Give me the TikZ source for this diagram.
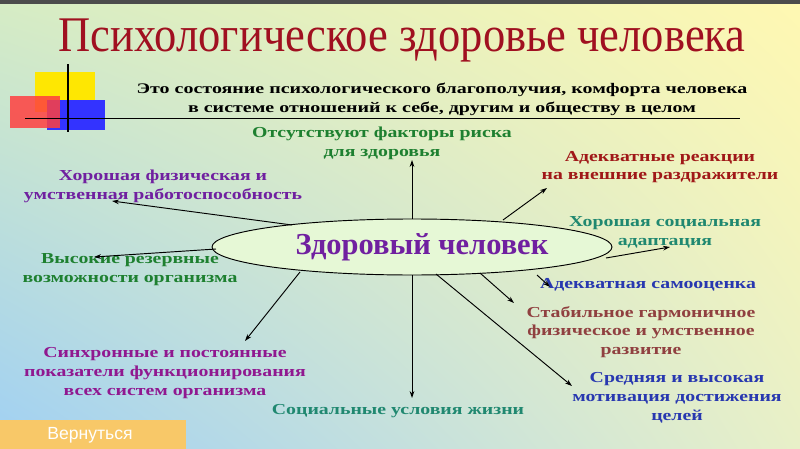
\documentclass[tikz,border=0pt]{standalone}
\usepackage{fontspec}
\setmainfont{Liberation Serif}
\setsansfont{Liberation Sans}
\usetikzlibrary{arrows.meta,shadings}
\definecolor{titlered}{HTML}{A01020}
\definecolor{ovalfill}{HTML}{E6F8D6}
\definecolor{lblgreen}{HTML}{1E8030}
\definecolor{lblpurple}{HTML}{7020A0}
\definecolor{lblred}{HTML}{A01818}
\definecolor{lblteal}{HTML}{208870}
\definecolor{lblblue}{HTML}{2838B0}
\definecolor{lblbrown}{HTML}{904040}
\definecolor{lblmag}{HTML}{901890}
\definecolor{bgul}{HTML}{D6ECC4}
\definecolor{bgur}{HTML}{FFF8B2}
\definecolor{bgll}{HTML}{A0D0F4}
\definecolor{bglr}{HTML}{E8F0C8}
\definecolor{btnfill}{HTML}{F8C868}
\begin{document}
\begin{tikzpicture}[x=0.03cm,y=-0.03cm,
    lbl/.style={font=\bfseries\fontsize{13}{16}\selectfont,align=center,inner sep=0pt,xscale=1.3},
    arr/.style={-{Stealth[length=6pt,width=4pt]},line width=0.8pt}]

    % background
    \shade[upper left=bgul,upper right=bgur,lower left=bgll,lower right=bglr]
        (0,0) rectangle (800,449);
    \useasboundingbox (0,0) rectangle (800,449);
    \fill[black!70] (0,0) rectangle (800,4);

    % decoration
    \fill[yellow!90!orange] (35,72) rectangle (95,112);
    \fill[blue!80] (47,100) rectangle (105,130);
    \fill[red!75,opacity=0.85] (10,96) rectangle (60,128);
    \draw[line width=1pt] (68,64) -- (68,132);
    \draw[line width=0.8pt] (25,118) -- (740,118);

    % title
    \node[font=\fontsize{38}{40}\selectfont,text=titlered,inner sep=0pt,yscale=1.12] (title) at (402,40) {Психологическое здоровье человека};
    \node[lbl,text=black,font=\bfseries\fontsize{12.5}{16}\selectfont,xscale=1.05] (def) at (442,99)
        {Это состояние психологического благополучия, комфорта человека\\ в системе отношений к себе, другим и обществу в целом};

    % centre
    \draw[fill=ovalfill,line width=0.8pt] (412,247) ellipse [x radius=200,y radius=28];
    \node[font=\bfseries\fontsize{26}{28}\selectfont,text=lblpurple] (man) at (422,247) {Здоровый человек};

    % labels
    \node[lbl,text=lblgreen]  (risk) at (382,143) {Отсутствуют факторы риска\\для здоровья};
    \node[lbl,text=lblpurple] (work) at (163,186) {Хорошая физическая и\\умственная работоспособность};
    \node[lbl,text=lblred]    (react) at (660,167) {Адекватные реакции\\на внешние раздражители};
    \node[lbl,text=lblgreen]  (reserve) at (130,270) {Высокие резервные\\возможности организма};
    \node[lbl,text=lblteal]   (adapt) at (665,232) {Хорошая социальная\\адаптация};
    \node[lbl,text=lblblue]   (self) at (648,285) {Адекватная самооценка};
    \node[lbl,text=lblbrown]  (devel) at (641,332) {Стабильное гармоничное\\физическое и умственное\\развитие};
    \node[lbl,text=lblblue]   (motiv) at (677,398) {Средняя и высокая\\мотивация достижения\\целей};
    \node[lbl,text=lblteal]   (social) at (398,411) {Социальные условия жизни};
    \node[lbl,text=lblmag]    (sync) at (165,373) {Синхронные и постоянные\\показатели функционирования\\всех систем организма};

    % arrow ends
    \coordinate (e1) at (412,219);  \coordinate (t1) at (412,160);
    \coordinate (e2) at (292,225);  \coordinate (t2) at (112,201);
    \coordinate (e3) at (503,220);  \coordinate (t3) at (547,188);
    \coordinate (e4) at (216,249);  \coordinate (t4) at (94,257);
    \coordinate (e5) at (606,258);  \coordinate (t5) at (670,247);
    \coordinate (e6) at (537,275);  \coordinate (t6) at (550,287);
    \coordinate (e7) at (480,273);  \coordinate (t7) at (514,303);
    \coordinate (e8) at (436,274);  \coordinate (t8) at (572,386);
    \coordinate (e9) at (412,275);  \coordinate (t9) at (412,398);
    \coordinate (e10) at (300,272); \coordinate (t10) at (245,341);
    \foreach \i in {1,...,10} \draw[arr] (e\i) -- (t\i);

    % button
    \fill[btnfill] (0,420) rectangle (186,449);
    \node[font=\sffamily\fontsize{15}{16}\selectfont,text=white] (back) at (90,435) {Вернуться};
\end{tikzpicture}
\end{document}
